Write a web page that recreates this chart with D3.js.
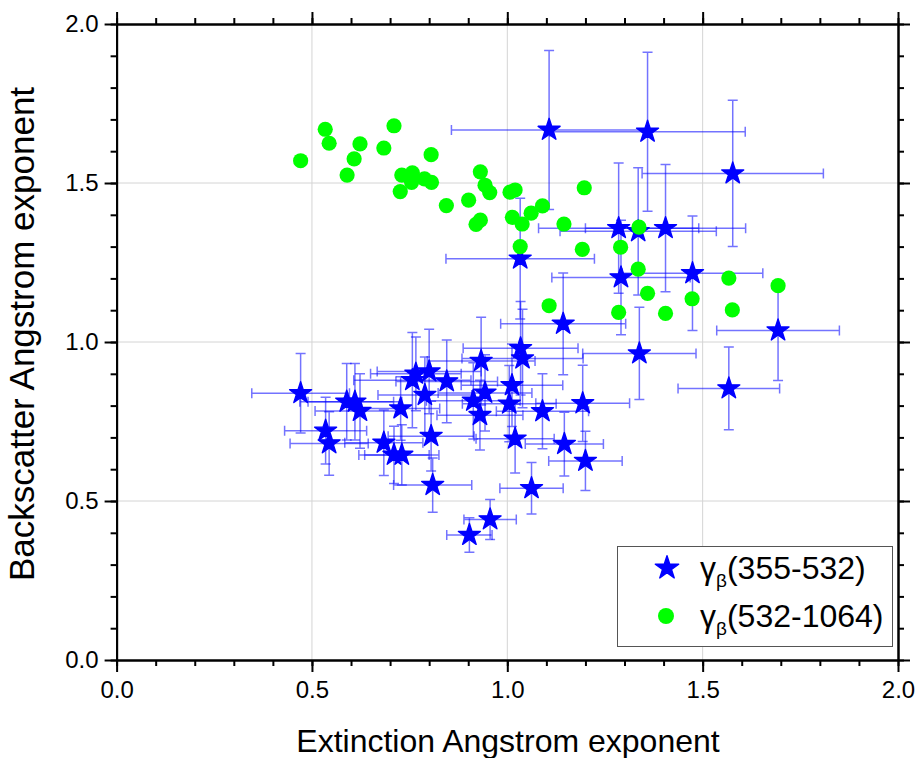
<!DOCTYPE html>
<html>
<head>
<meta charset="utf-8">
<script src="https://cdn.jsdelivr.net/npm/d3@7"></script>
<style>
body { margin: 0; background: #fff; }
svg { display: block; }
text { font-family: "Liberation Sans", Arial, sans-serif; fill: #000; }
</style>
</head>
<body>
<svg id="chart" width="917" height="758"></svg>
<script>
// gamma_beta(355-532): extinction AE, backscatter AE and their errors
var blueX    = [0.471, 0.535, 0.544, 0.589, 0.610, 0.623, 0.684, 0.710, 0.730, 0.727, 0.757, 0.766, 0.800, 0.789, 0.805, 0.809,
                0.845, 0.933, 0.943, 0.913, 0.930, 1.005, 1.012, 1.034, 1.039, 1.020, 1.090, 1.146, 1.193, 1.200, 1.062, 0.956,
                0.903, 1.143, 1.338, 1.567, 1.693, 1.033, 1.291, 1.474, 1.285, 1.335, 1.405, 1.577, 1.107, 1.359];
var blueY    = [0.839, 0.721, 0.681, 0.812, 0.812, 0.783, 0.683, 0.645, 0.645, 0.791, 0.880, 0.900, 0.907, 0.833, 0.704, 0.550,
                0.876, 0.940, 0.840, 0.815, 0.770, 0.806, 0.864, 0.980, 0.948, 0.696, 0.782, 0.679, 0.807, 0.626, 0.540, 0.442,
                0.393, 1.057, 0.964, 0.854, 1.036, 1.262, 1.203, 1.216, 1.358, 1.348, 1.358, 1.530, 1.667, 1.661];
var blueXErr = [0.125, 0.105, 0.100, 0.120, 0.120, 0.115, 0.100, 0.090, 0.095, 0.100, 0.150, 0.116, 0.133, 0.120, 0.110, 0.100,
                0.130, 0.138, 0.120, 0.120, 0.110, 0.120, 0.130, 0.147, 0.155, 0.100, 0.118, 0.100, 0.120, 0.094, 0.081, 0.067,
                0.058, 0.160, 0.145, 0.130, 0.157, 0.190, 0.177, 0.180, 0.205, 0.200, 0.205, 0.232, 0.250, 0.250];
var blueYErr = [0.125, 0.105, 0.100, 0.120, 0.120, 0.117, 0.103, 0.090, 0.095, 0.100, 0.150, 0.116, 0.133, 0.120, 0.110, 0.085,
                0.130, 0.138, 0.120, 0.120, 0.110, 0.120, 0.130, 0.147, 0.155, 0.108, 0.118, 0.100, 0.120, 0.093, 0.081, 0.063,
                0.054, 0.160, 0.145, 0.130, 0.157, 0.190, 0.180, 0.180, 0.205, 0.200, 0.200, 0.230, 0.250, 0.250];

// gamma_beta(532-1064)
var greenX = [0.471, 0.534, 0.544, 0.623, 0.608, 0.590, 0.710, 0.684, 0.805, 0.730, 0.757, 0.755, 0.788, 0.806, 0.726,
              0.844, 0.901, 0.931, 0.943, 0.955, 0.931, 0.920, 1.007, 1.020, 1.013, 1.061, 1.038, 1.033, 1.090, 1.197,
              1.145, 1.192, 1.337, 1.290, 1.335, 1.359, 1.473, 1.285, 1.405, 1.107, 1.567, 1.576, 1.693];
var greenY = [1.570, 1.669, 1.625, 1.623, 1.576, 1.525, 1.680, 1.610, 1.589, 1.525, 1.532, 1.502, 1.513, 1.502, 1.473,
              1.429, 1.446, 1.535, 1.493, 1.470, 1.383, 1.370, 1.471, 1.478, 1.392, 1.405, 1.371, 1.300, 1.428, 1.485,
              1.371, 1.291, 1.361, 1.298, 1.229, 1.153, 1.136, 1.093, 1.090, 1.114, 1.201, 1.101, 1.177];

var majorTicks = [0.0, 0.5, 1.0, 1.5, 2.0];
var minorTicks = d3.range(0, 21).map(d => d / 10);
var legendLabels = ['(355-532)', '(532-1064)'];

var svg = d3.select('#chart');
var plotLeft = 116.6, plotRight = 898, plotTop = 24, plotBottom = 660;

var x = d3.scaleLinear().domain([0, 2]).range([plotLeft, plotRight]);
var y = d3.scaleLinear().domain([0, 2]).range([plotBottom, plotTop]);

// grid
var grid = svg.append('g').attr('stroke', '#d4d4d4').attr('stroke-width', 1);
majorTicks.slice(1, 4).forEach(t => {
    grid.append('line').attr('x1', x(t)).attr('x2', x(t)).attr('y1', plotTop).attr('y2', plotBottom);
    grid.append('line').attr('x1', plotLeft).attr('x2', plotRight).attr('y1', y(t)).attr('y2', y(t));
});

// axes, ticks outward on all four sides
function styleAxis(g) {
    g.selectAll('path').attr('stroke-width', 2).attr('stroke', '#000');
    g.selectAll('line').attr('stroke-width', 2).attr('stroke', '#000');
    g.selectAll('text').attr('font-size', 24).style('font-family', '"Liberation Sans", Arial, sans-serif');
}
var fmt = d3.format('.1f');

[['axisBottom', plotBottom, true], ['axisTop', plotTop, false]].forEach(a => {
    svg.append('g').attr('transform', `translate(0,${a[1]})`)
        .call(d3[a[0]](x).tickValues(minorTicks).tickSize(6).tickSizeOuter(0).tickFormat(''))
        .call(styleAxis);
    svg.append('g').attr('transform', `translate(0,${a[1]})`)
        .call(d3[a[0]](x).tickValues(majorTicks).tickSize(12).tickSizeOuter(0).tickPadding(9)
            .tickFormat(a[2] ? fmt : ''))
        .call(styleAxis);
});
[['axisLeft', plotLeft, true], ['axisRight', plotRight, false]].forEach(a => {
    svg.append('g').attr('transform', `translate(${a[1]},0)`)
        .call(d3[a[0]](y).tickValues(minorTicks).tickSize(6).tickSizeOuter(0).tickFormat(''))
        .call(styleAxis);
    svg.append('g').attr('transform', `translate(${a[1]},0)`)
        .call(d3[a[0]](y).tickValues(majorTicks).tickSize(12).tickSizeOuter(0).tickPadding(6)
            .tickFormat(a[2] ? fmt : ''))
        .call(styleAxis);
});

// error bars
var blue = blueX.map((d, i) => ({ x: d, y: blueY[i], ex: blueXErr[i], ey: blueYErr[i] }));
var cap = 5;
var eb = svg.append('g').attr('stroke', '#0000ff').attr('stroke-opacity', 0.55).attr('stroke-width', 1.5).attr('fill', 'none');
blue.forEach(d => {
    var cx = x(d.x), cy = y(d.y);
    var x0 = x(d.x - d.ex), x1 = x(d.x + d.ex), y0 = y(d.y - d.ey), y1 = y(d.y + d.ey);
    eb.append('path').attr('d',
        `M${x0},${cy}H${x1}M${x0},${cy - cap}V${cy + cap}M${x1},${cy - cap}V${cy + cap}` +
        `M${cx},${y0}V${y1}M${cx - cap},${y0}H${cx + cap}M${cx - cap},${y1}H${cx + cap}`);
});

var star = d3.symbol().type(d3.symbolStar).size(150);
svg.append('g').selectAll('path').data(blue).join('path')
    .attr('d', star)
    .attr('transform', d => `translate(${x(d.x)},${y(d.y)})`)
    .attr('fill', '#0000ff')
    .attr('stroke', '#0000ff').attr('stroke-width', 1.4).attr('stroke-linejoin', 'round');

svg.append('g').selectAll('circle').data(greenX).join('circle')
    .attr('cx', d => x(d))
    .attr('cy', (d, i) => y(greenY[i]))
    .attr('r', 7.6)
    .attr('fill', '#00ff00');

// axis titles
svg.append('text').attr('x', 508).attr('y', 752).attr('text-anchor', 'middle')
    .attr('font-size', 32).text('Extinction Angstrom exponent');
svg.append('text').attr('transform', 'translate(34,334) rotate(-90)').attr('text-anchor', 'middle')
    .attr('font-size', 35).text('Backscatter Angstrom exponent');

// legend
var lg = svg.append('g');
lg.append('rect').attr('x', 617.5).attr('y', 546.5).attr('width', 275).attr('height', 100)
    .attr('fill', '#fff').attr('stroke', '#555').attr('stroke-width', 1);
var rows = [568, 616];
lg.append('path').attr('d', d3.symbol().type(d3.symbolStar).size(170)).attr('fill', '#0000ff')
    .attr('stroke', '#0000ff').attr('stroke-width', 1.4).attr('stroke-linejoin', 'round')
    .attr('transform', `translate(667,${rows[0]})`);
lg.append('circle').attr('cx', 666).attr('cy', rows[1]).attr('r', 8).attr('fill', '#00ff00');
legendLabels.forEach((l, i) => {
    var t = lg.append('text').attr('x', 700).attr('y', rows[i] + 11).attr('font-size', 32);
    t.append('tspan').text('γ');
    t.append('tspan').attr('font-size', 19).attr('dy', 8).text('β');
    t.append('tspan').attr('dy', -8).text(l);
});
</script>
</body>
</html>
